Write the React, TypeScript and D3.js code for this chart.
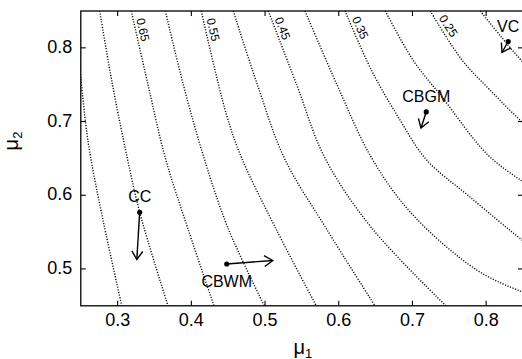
import React from "react";
import * as d3 from "d3";

// ---- data ----
const xDomain: [number, number] = [0.25, 0.85];
const yDomain: [number, number] = [0.45, 0.85];
const xTicks = [0.3, 0.4, 0.5, 0.6, 0.7, 0.8];
const yTicks = [0.5, 0.6, 0.7, 0.8];

const contourLevels = [0.75, 0.7, 0.65, 0.6, 0.55, 0.5, 0.45, 0.4, 0.35, 0.3, 0.25, 0.2];
const contourPoints: [number, number][][] = [
  [[0.2464, 0.79], [0.25, 0.7591], [0.2602, 0.6705], [0.2801, 0.5664], [0.3056, 0.45]],
  [[0.2756, 0.85], [0.293, 0.75], [0.3131, 0.6505], [0.3299, 0.5769], [0.3683, 0.45]],
  [[0.3185, 0.85], [0.3412, 0.75], [0.3647, 0.6505], [0.3955, 0.5542], [0.4307, 0.45]],
  [[0.3647, 0.85], [0.3891, 0.75], [0.4172, 0.6505], [0.4497, 0.5556], [0.499, 0.45]],
  [[0.4135, 0.85], [0.447, 0.7116], [0.4683, 0.6505], [0.5149, 0.5542], [0.5695, 0.45]],
  [[0.4569, 0.85], [0.4896, 0.75], [0.5261, 0.6505], [0.5834, 0.5542], [0.6492, 0.45]],
  [[0.5044, 0.85], [0.5429, 0.75], [0.5813, 0.6505], [0.6451, 0.5552], [0.7455, 0.45]],
  [[0.5542, 0.85], [0.5976, 0.75], [0.6447, 0.6505], [0.6994, 0.5746], [0.7872, 0.4986], [0.8482, 0.4691], [0.8799, 0.4579]],
  [[0.6085, 0.85], [0.6451, 0.7682], [0.6831, 0.7021], [0.7193, 0.6478], [0.7781, 0.5976], [0.8487, 0.5393], [0.8731, 0.5216]],
  [[0.6632, 0.85], [0.7007, 0.7835], [0.74, 0.7333], [0.8024, 0.6546], [0.8499, 0.6184], [0.8811, 0.5976]],
  [[0.7242, 0.85], [0.7672, 0.7835], [0.8066, 0.7414], [0.8487, 0.6994], [0.8799, 0.6722]],
  [[0.7921, 0.85], [0.8217, 0.8134], [0.8487, 0.7818], [0.8799, 0.7496]],
];
const labeledLevels = [0.65, 0.55, 0.45, 0.35, 0.25];

const methods = ["CC", "CBWM", "CBGM", "VC"];
const methodMu1 = [0.3299, 0.448, 0.7187, 0.8299];
const methodMu2 = [0.5769, 0.5067, 0.713, 0.8086];
const arrowTipMu1 = [0.326, 0.5104, 0.7116, 0.8215];
const arrowTipMu2 = [0.5128, 0.5115, 0.6912, 0.7937];
const labelSide = ["above", "below", "above", "above"];

const FONT = "'Liberation Sans', Arial, Helvetica, sans-serif";

export default function App() {
  const W = 522;
  const H = 359;
  const x = d3.scaleLinear().domain(xDomain).range([80.8, 523]);
  const y = d3.scaleLinear().domain(yDomain).range([305.8, 11]);
  const [x0, x1] = x.range();
  const [y0, y1] = y.range();
  const line = d3
    .line<[number, number]>()
    .x((d) => x(d[0]))
    .y((d) => y(d[1]))
    .curve(d3.curveCatmullRom.alpha(0.5));

  const tickLen = 5;
  const headLen = 10;
  const headAng = (33 * Math.PI) / 180;

  return (
    <svg
      width={W}
      height={H}
      style={{ position: "absolute", left: 0, top: 0, background: "#fff" }}
      fontFamily={FONT}
    >
      <defs>
        <clipPath id="plotclip">
          <rect x={x0} y={y1} width={x1 - x0} height={y0 - y1} />
        </clipPath>
      </defs>
      <rect x={0} y={0} width={W} height={H} fill="#fff" />

      {/* contours */}
      <g clipPath="url(#plotclip)">
        {contourPoints.map((pts, i) => (
          <path
            key={i}
            d={line(pts) || ""}
            fill="none"
            stroke="#000"
            strokeWidth={1.4}
            strokeDasharray="1.1 1.6"
          />
        ))}
      </g>

      {/* contour labels */}
      {labeledLevels.map((lv) => {
        const i = contourLevels.findIndex((l) => Math.abs(l - lv) < 1e-9);
        const pts = contourPoints[i];
        const p0 = [x(pts[0][0]), y(pts[0][1])];
        const p1 = [x(pts[1][0]), y(pts[1][1])];
        const dx = p1[0] - p0[0];
        const dy = p1[1] - p0[1];
        const len = Math.hypot(dx, dy);
        const ux = dx / len;
        const uy = dy / len;
        const s = 9 / uy;
        const sx = p0[0] + ux * s + uy * 3;
        const sy = p0[1] + uy * s - ux * 3;
        const ang = (Math.atan2(uy, ux) * 180) / Math.PI;
        return (
          <text
            key={lv}
            transform={`translate(${sx},${sy}) rotate(${ang})`}
            fontSize={12}
            fill="#000"
          >
            {lv.toFixed(2)}
          </text>
        );
      })}

      {/* arrows and points */}
      {methods.map((m, i) => {
        const px = x(methodMu1[i]);
        const py = y(methodMu2[i]);
        const tx = x(arrowTipMu1[i]);
        const ty = y(arrowTipMu2[i]);
        const a = Math.atan2(py - ty, px - tx);
        const w1x = tx + headLen * Math.cos(a + headAng);
        const w1y = ty + headLen * Math.sin(a + headAng);
        const w2x = tx + headLen * Math.cos(a - headAng);
        const w2y = ty + headLen * Math.sin(a - headAng);
        const ly = labelSide[i] === "above" ? py - 10 : py + 23;
        return (
          <g key={m}>
            <line x1={px} y1={py} x2={tx} y2={ty} stroke="#000" strokeWidth={1.4} />
            <polyline
              points={`${w1x},${w1y} ${tx},${ty} ${w2x},${w2y}`}
              fill="none"
              stroke="#000"
              strokeWidth={1.4}
            />
            <circle cx={px} cy={py} r={2.6} fill="#000" />
            <text x={px} y={ly} textAnchor="middle" fontSize={16} fill="#000">
              {m}
            </text>
          </g>
        );
      })}

      {/* frame */}
      <rect
        x={x0}
        y={y1}
        width={x1 - x0}
        height={y0 - y1}
        fill="none"
        stroke="#000"
        strokeWidth={1.3}
      />

      {/* x ticks */}
      {xTicks.map((t) => (
        <g key={"x" + t}>
          <line x1={x(t)} x2={x(t)} y1={y0} y2={y0 - tickLen} stroke="#000" strokeWidth={1.1} />
          <line x1={x(t)} x2={x(t)} y1={y1} y2={y1 + tickLen} stroke="#000" strokeWidth={1.1} />
          <text x={x(t)} y={y0 + 20.5} textAnchor="middle" fontSize={18} fill="#000">
            {t.toFixed(1)}
          </text>
        </g>
      ))}

      {/* y ticks */}
      {yTicks.map((t) => (
        <g key={"y" + t}>
          <line x1={x0} x2={x0 + tickLen} y1={y(t)} y2={y(t)} stroke="#000" strokeWidth={1.1} />
          <line x1={x1} x2={x1 - tickLen} y1={y(t)} y2={y(t)} stroke="#000" strokeWidth={1.1} />
          <text x={x0 - 8.5} y={y(t) + 5} textAnchor="end" fontSize={18} fill="#000">
            {t.toFixed(1)}
          </text>
        </g>
      ))}

      {/* axis labels */}
      <text x={(x0 + x1) / 2 + 1} y={353.5} textAnchor="middle" fontSize={20} fill="#000">
        μ<tspan fontSize={13} dy={4}>1</tspan>
      </text>
      <text
        transform={`translate(18,141) rotate(-90)`}
        textAnchor="middle"
        fontSize={20}
        fill="#000"
      >
        μ<tspan fontSize={13} dy={4}>2</tspan>
      </text>
    </svg>
  );
}
